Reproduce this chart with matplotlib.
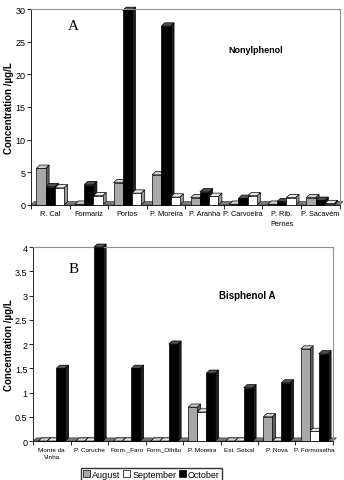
import numpy as np
import matplotlib
matplotlib.use("Agg")
import matplotlib.pyplot as plt
from matplotlib.patches import Polygon, Patch

# panel A - nonylphenol (bar order as drawn: August, October, September)
sites_a = ['R. Cal', 'Formariz', 'Portos', 'P. Moreira', 'P. Aranha',
           'P. Carvoeira', 'P. Rib.\nPernes', 'P. Sacavém']
aug_a = [5.6, 0.1, 3.4, 4.6, 1.1, 0.1, 0.1, 1.1]
oct_a = [2.8, 3.1, 29.8, 27.4, 2.0, 1.0, 0.5, 0.7]
sep_a = [2.6, 1.4, 1.8, 1.2, 1.3, 1.4, 1.1, 0.2]

# panel B - bisphenol A (order: August, September, October)
sites_b = ['Monte da\nVinha', 'P. Coruche', 'Form._Faro', 'Form_Olhão', 'P. Moreira',
           'Est. Seixal', 'P. Nova', 'P. Formoselha']
aug_b = [0, 0, 0, 0, 0.7, 0, 0.5, 1.9]
sep_b = [0, 0, 0, 0, 0.6, 0, 0, 0.2]
oct_b = [1.5, 4.0, 1.5, 2.0, 1.4, 1.1, 1.2, 1.8]

colors = {'Aug': '#a8a8a8', 'Sep': 'white', 'Oct': 'black'}
side = {'Aug': '#606060', 'Sep': '#9a9a9a', 'Oct': '#202020'}
top = {'Aug': '#d0d0d0', 'Sep': '#e8e8e8', 'Oct': '#505050'}

plt.rcParams['font.family'] = ['Liberation Sans Narrow', 'Liberation Sans', 'DejaVu Sans']

fig = plt.figure(figsize=(3.44, 4.81), dpi=100)


def bars3d(ax, series, names, ymax, dx, dy):
    n = len(series[0])
    x = np.arange(n)
    w = 0.24
    offs = [-w, 0, w]
    # floor
    ax.add_patch(Polygon([(-0.5, 0), (n - 0.5, 0), (n - 0.5 + dx, dy), (-0.5 + dx, dy)],
                         closed=True, facecolor='#7a7a7a', edgecolor='#404040', lw=0.5,
                         clip_on=False, zorder=1))
    for vals, nm, o in zip(series, names, offs):
        for xi, v in zip(x, vals):
            x0 = xi + o - w / 2
            x1 = xi + o + w / 2
            ax.add_patch(Polygon([(x0, 0), (x1, 0), (x1, v), (x0, v)], closed=True,
                                 facecolor=colors[nm], edgecolor='black', lw=0.5,
                                 clip_on=False, zorder=3))
            ax.add_patch(Polygon([(x1, 0), (x1 + dx, dy), (x1 + dx, v + dy), (x1, v)],
                                 closed=True, facecolor=side[nm], edgecolor='black',
                                 lw=0.5, clip_on=False, zorder=2))
            ax.add_patch(Polygon([(x0, v), (x1, v), (x1 + dx, v + dy), (x0 + dx, v + dy)],
                                 closed=True, facecolor=top[nm], edgecolor='black',
                                 lw=0.5, clip_on=False, zorder=2))
    ax.set_xlim(-0.5, n - 0.5)
    ax.set_ylim(0, ymax)
    ax.set_xticks(np.arange(n + 1) - 0.5)
    ax.set_xticklabels([])
    ax.set_xticks(x, minor=True)
    ax.tick_params(axis='x', which='major', length=3, width=0.6)
    ax.tick_params(axis='x', which='minor', length=0, pad=4)
    ax.tick_params(axis='y', length=3, width=0.6, labelsize=6.5, pad=1)
    for lab in ax.get_yticklabels():
        lab.set_family(['Liberation Sans', 'DejaVu Sans'])
    ax.spines['top'].set_color('#909090')
    ax.spines['right'].set_color('#909090')
    ax.spines['bottom'].set_linewidth(0.6)
    ax.spines['left'].set_linewidth(0.6)


ax1 = fig.add_axes([0.09, 0.572, 0.897, 0.407])
bars3d(ax1, [aug_a, oct_a, sep_a], ['Aug', 'Oct', 'Sep'], 30, 0.09, 0.5)
ax1.set_yticks(range(0, 31, 5))
ax1.set_xticklabels(sites_a, minor=True, fontsize=5.3, va='top', linespacing=1.6)
ax1.text(0.12, 0.9, 'A', transform=ax1.transAxes, fontsize=11, family='Liberation Serif')
ax1.text(0.64, 0.78, 'Nonylphenol', transform=ax1.transAxes, fontsize=6.5, fontweight='bold')
ax1.set_ylabel('Concentration /µg/L', fontsize=7, fontweight='bold',
               family=['Liberation Sans', 'DejaVu Sans'], labelpad=1)

ax2 = fig.add_axes([0.096, 0.081, 0.872, 0.403])
bars3d(ax2, [aug_b, sep_b, oct_b], ['Aug', 'Sep', 'Oct'], 4, 0.09, 0.065)
ax2.set_yticks([0, 0.5, 1, 1.5, 2, 2.5, 3, 3.5, 4])
ax2.set_yticklabels(['0', '0.5', '1', '1.5', '2', '2.5', '3', '3.5', '4'])
ax2.set_xticklabels(sites_b, minor=True, fontsize=4.6, va='top', linespacing=1.6)
ax2.text(0.12, 0.87, 'B', transform=ax2.transAxes, fontsize=11, family='Liberation Serif')
ax2.text(0.62, 0.74, 'Bisphenol A', transform=ax2.transAxes, fontsize=7, fontweight='bold',
         family=['Liberation Sans', 'DejaVu Sans'])
ax2.set_ylabel('Concentration /µg/L', fontsize=7, fontweight='bold',
               family=['Liberation Sans', 'DejaVu Sans'], labelpad=1)

handles = [Patch(facecolor=colors[k], edgecolor='black', lw=0.5, label=l)
           for k, l in [('Aug', 'August'), ('Sep', 'September'), ('Oct', 'October')]]
fig.legend(handles=handles, loc='lower center', bbox_to_anchor=(0.44, -0.005), ncol=3,
           fontsize=6.5, frameon=True, fancybox=False, edgecolor='black',
           handlelength=0.8, handleheight=0.8, handletextpad=0.2, columnspacing=0.3,
           borderpad=0.2, borderaxespad=0.2)

fig.savefig('out.png', dpi=100)
